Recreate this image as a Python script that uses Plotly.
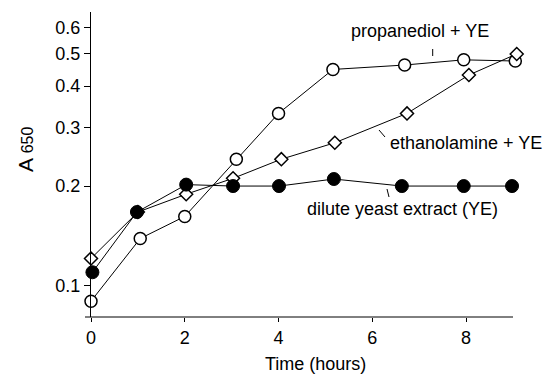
import plotly.graph_objects as go

# ---- data ----
prop_x = [0.0, 1.05, 2.0, 3.1, 4.0, 5.16, 6.69, 7.95, 9.05]
prop_y = [0.090, 0.139, 0.162, 0.241, 0.331, 0.449, 0.463, 0.480, 0.476]

eth_x = [0.0, 1.0, 2.03, 3.03, 4.06, 5.2, 6.74, 8.06, 9.08]
eth_y = [0.121, 0.167, 0.189, 0.211, 0.241, 0.270, 0.331, 0.432, 0.500]

ye_x = [0.03, 0.98, 2.03, 3.03, 4.01, 5.18, 6.63, 7.95, 8.98]
ye_y = [0.110, 0.167, 0.202, 0.200, 0.200, 0.210, 0.200, 0.200, 0.200]

x_ticks = [0, 2, 4, 6, 8]
y_ticks = [0.1, 0.2, 0.3, 0.4, 0.5, 0.6]
y_tick_text = ["0.1", "0.2", "0.3", "0.4", "0.5", "0.6"]

labels = ["propanediol + YE", "ethanolamine + YE", "dilute yeast extract (YE)"]

FONT = "Liberation Sans, Arial, sans-serif"
FS = 18
W, H = 546, 374
X_MAX = 9.15
L, T, B = 91, 12, 57
PX_PER_UNIT = 46.9
R = W - L - int(round(X_MAX * PX_PER_UNIT))
pw, ph = W - L - R, H - T - B


def px(xpix):
    return (xpix - L) / pw


def py(ypix):
    return (H - B - ypix) / ph


fig = go.Figure()
fig.add_trace(go.Scatter(
    x=prop_x, y=prop_y, mode="lines+markers", cliponaxis=False,
    line=dict(color="black", width=1),
    marker=dict(symbol="circle", size=12, color="white",
                line=dict(color="black", width=1.5)),
    name=labels[0]))
fig.add_trace(go.Scatter(
    x=eth_x, y=eth_y, mode="lines+markers", cliponaxis=False,
    line=dict(color="black", width=1),
    marker=dict(symbol="diamond", size=10, color="white",
                line=dict(color="black", width=1.5)),
    name=labels[1]))
fig.add_trace(go.Scatter(
    x=ye_x, y=ye_y, mode="lines+markers", cliponaxis=False,
    line=dict(color="black", width=1),
    marker=dict(symbol="circle", size=13, color="black",
                line=dict(color="black", width=1)),
    name=labels[2]))

fig.update_layout(
    width=W, height=H,
    margin=dict(l=L, r=R, t=T, b=B, pad=0),
    paper_bgcolor="white", plot_bgcolor="white",
    showlegend=False,
    font=dict(family=FONT, size=FS, color="black"),
    xaxis=dict(range=[0, X_MAX], tickvals=x_ticks, ticks="outside", ticklen=4,
               tickwidth=1, tickcolor="black", showline=False,
               showgrid=False, zeroline=False,
               tickfont=dict(family=FONT, size=FS)),
    yaxis=dict(type="log", range=[-1.0934, -0.1747], tickvals=y_ticks,
               ticktext=y_tick_text, ticks="outside", ticklen=6, tickwidth=1,
               tickcolor="black", showline=True, linecolor="black", linewidth=1.2,
               showgrid=False, zeroline=False,
               tickfont=dict(family=FONT, size=FS)),
)

ann = [
    dict(text=labels[0], x=px(420), y=py(31)),
    dict(text=labels[1], x=px(466), y=py(143)),
    dict(text=labels[2], x=px(402), y=py(209)),
    dict(text="Time (hours)", x=px(315), y=py(364)),
]
for a in ann:
    fig.add_annotation(xref="paper", yref="paper", showarrow=False,
                       xanchor="center", yanchor="middle", borderpad=0,
                       font=dict(family=FONT, size=FS, color="black"), **a)

fig.add_annotation(xref="paper", yref="paper", x=px(25), y=py(150),
                   text='A <span style="font-size:16px">650</span>',
                   textangle=-90, showarrow=False, xanchor="center",
                   yanchor="middle", font=dict(family=FONT, size=21, color="black"))

# leader lines and x-axis line
lines = [((432.7, 49), (432.7, 56)), ((379, 130), (385, 137)),
         ((387, 189), (389, 197)), ((85, 317), (513, 317))]
for (x0, y0), (x1, y1) in lines:
    fig.add_shape(type="line", xref="paper", yref="paper",
                  x0=px(x0), y0=py(y0), x1=px(x1), y1=py(y1),
                  line=dict(color="black", width=1))

fig.write_html("out.html")
